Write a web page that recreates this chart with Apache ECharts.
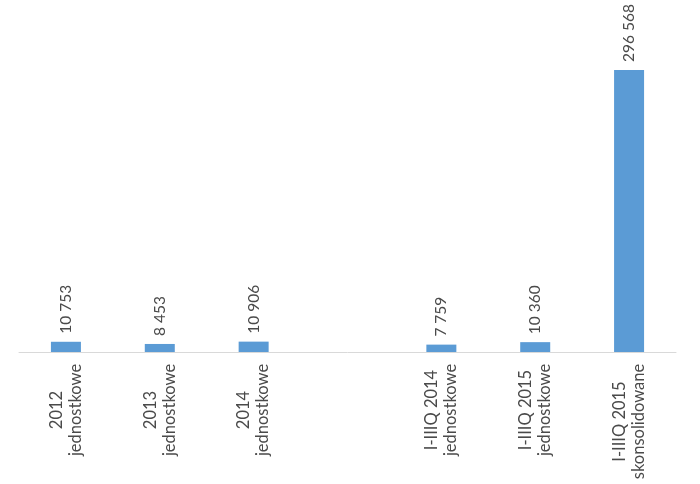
<!DOCTYPE html>
<html><head><meta charset="utf-8">
<script src="https://cdn.jsdelivr.net/npm/echarts@6/dist/echarts.min.js"></script>
<style>html,body{margin:0;padding:0;background:#fff}#c{width:700px;height:484px}</style>
</head><body><div id="c"></div>
<script>
var categories = ['2012\njednostkowe', '2013\njednostkowe', '2014\njednostkowe', '', 'I-IIIQ 2014\njednostkowe', 'I-IIIQ 2015\njednostkowe', 'I-IIIQ 2015\nskonsolidowane'];
var values = [10753, 8453, 10906, null, 7759, 10360, 296568];

var FONT = 'Lato';
var CAT_SIZE = 16.5;
var chart = echarts.init(document.getElementById('c'));
function measure(t, size) {
  var c = document.createElement('canvas').getContext('2d');
  c.font = size + 'px ' + FONT;
  return c.measureText(t).width;
}
function fmtNum(v) {
  return String(v).replace(/\B(?=(\d{3})+(?!\d))/g, '\u00a0');
}
chart.setOption({
  animation: false,
  grid: { left: 19, right: 24, top: 70, bottom: 132 },
  xAxis: {
    type: 'category',
    data: categories,
    axisLine: { lineStyle: { color: '#d9d9d9', width: 1 } },
    axisTick: { show: false },
    axisLabel: {
      interval: 0,
      rotate: 90,
      margin: 11,
      color: '#4a4a4a',
      fontFamily: FONT,
      fontSize: CAT_SIZE,
      lineHeight: 19,
      formatter: function (v) {
        if (!v) return '';
        var lines = v.split('\n');
        var w = 0;
        lines.forEach(function (l) { w = Math.max(w, measure(l, CAT_SIZE)); });
        w = Math.ceil(w) + 1;
        return lines.map(function (l) { return '{c' + w + '|' + l + '}'; }).join('\n');
      },
      rich: (function () {
        var r = {};
        for (var i = 20; i < 200; i++) r['c' + i] = { width: i, align: 'center', fontSize: CAT_SIZE, fontFamily: FONT, color: '#4a4a4a', lineHeight: 19 };
        return r;
      })()
    }
  },
  yAxis: {
    type: 'value',
    min: 0,
    max: 296568,
    show: false,
    splitLine: { show: false }
  },
  series: [{
    type: 'bar',
    data: values,
    barWidth: 30,
    itemStyle: { color: '#5b9bd5' },
    label: {
      show: true,
      position: 'top',
      rotate: 90,
      align: 'left',
      verticalAlign: 'middle',
      distance: 8,
      color: '#4a4a4a',
      fontFamily: FONT,
      fontSize: 15.5,
      formatter: function (p) { return fmtNum(p.value); }
    }
  }]
});
</script></body></html>
